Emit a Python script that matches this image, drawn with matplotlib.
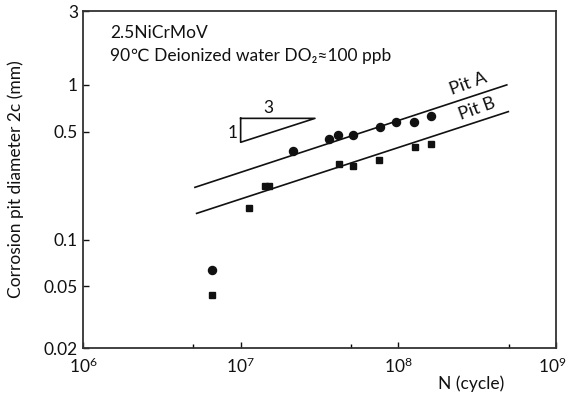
import matplotlib
matplotlib.use("Agg")
import matplotlib.pyplot as plt
import matplotlib.transforms as mtransforms
from matplotlib.ticker import FixedLocator, NullLocator, NullFormatter

plt.rcParams['font.family'] = ['Lato', 'DejaVu Sans']
plt.rcParams['mathtext.fontset'] = 'custom'
plt.rcParams['mathtext.rm'] = 'Lato'
plt.rcParams['mathtext.it'] = 'Lato:italic'

# Pit A (circles)
pitA_n = [6.58e6, 2.16e7, 3.63e7, 4.16e7, 5.13e7, 7.64e7, 9.66e7, 1.26e8, 1.60e8]
pitA_d = [0.0638, 0.377, 0.446, 0.475, 0.475, 0.531, 0.578, 0.578, 0.630]
# Pit B (squares)
pitB_n = [6.58e6, 1.13e7, 1.42e7, 1.52e7, 4.22e7, 5.13e7, 7.57e7, 1.27e8, 1.60e8]
pitB_d = [0.044, 0.161, 0.222, 0.222, 0.307, 0.299, 0.327, 0.399, 0.413]

# fitted lines (end points)
lineA_n = [5.13e6, 4.87e8]
lineA_d = [0.218, 1.0]
lineB_n = [5.26e6, 4.98e8]
lineB_d = [0.148, 0.672]

# slope triangle 1:3
tri_n = [1e7, 1e7, 2.96e7, 1e7]
tri_d = [0.608, 0.426, 0.608, 0.608]

yticks = [0.02, 0.05, 0.1, 0.5, 1, 3]
ytick_labels = ['0.02', '0.05', '0.1', '0.5', '1', '3']
xticks = [1e6, 1e7, 1e8, 1e9]
xtick_labels = [r'$10^{6}$', r'$10^{7}$', r'$10^{8}$', r'$10^{9}$']
xminor = [5e6, 5e7, 5e8]

c = '#111111'
fs = 12.5
fig = plt.figure(figsize=(5.68, 3.93), dpi=100)
ax = fig.add_axes([0.146, 0.1145, 0.833, 0.8575])
ax.set_xscale('log')
ax.set_yscale('log')
ax.set_xlim(1e6, 1e9)
ax.set_ylim(0.02, 3)

ax.plot(lineA_n, lineA_d, color=c, lw=1.2)
ax.plot(lineB_n, lineB_d, color=c, lw=1.2)
ax.plot(tri_n, tri_d, color=c, lw=1.2)
ax.plot(pitA_n, pitA_d, 'o', color=c, ms=5.8, ls='none')
ax.plot(pitB_n, pitB_d, 's', color=c, ms=5, ls='none')

ax.text(8.9e6, 0.489, '1', fontsize=fs, ha='center', va='center', color=c)
ax.text(1.51e7, 0.71, '3', fontsize=fs, ha='center', va='center', color=c)
ax.text(2.76e8, 1.01, 'Pit A', fontsize=13, rotation=20, ha='center', va='center', color=c)
ax.text(3.14e8, 0.70, 'Pit B', fontsize=13, rotation=20, ha='center', va='center', color=c)

ax.text(0.057, 0.935, '2.5NiCrMoV', transform=ax.transAxes, fontsize=fs, va='center', color=c)
ax.text(0.057, 0.865, '90℃ Deionized water DO₂≈100 ppb', transform=ax.transAxes,
        fontsize=fs, va='center', color=c)

ax.xaxis.set_major_locator(FixedLocator(xticks))
ax.set_xticklabels(xtick_labels)
ax.xaxis.set_minor_locator(FixedLocator(xminor))
ax.xaxis.set_minor_formatter(NullFormatter())
ax.yaxis.set_major_locator(FixedLocator(yticks))
ax.set_yticklabels(ytick_labels)
ax.yaxis.set_minor_locator(NullLocator())
ax.tick_params(direction='in', length=4, width=1, labelsize=fs, colors=c)
ax.tick_params(which='minor', direction='in', length=3, width=1)
ax.tick_params(axis='x', pad=6)

# keep the 10^9 label inside the canvas
last = ax.get_xticklabels()[-1]
last.set_transform(last.get_transform() +
                   mtransforms.ScaledTranslation(-4 / 100, 0, fig.dpi_scale_trans))

for s in ax.spines.values():
    s.set_color('#333333')
    s.set_linewidth(1.3)

ax.set_ylabel('Corrosion pit diameter 2c (mm)', fontsize=fs, color=c)
ax.yaxis.set_label_coords(-0.125, 0.5)
ax.set_xlabel('N (cycle)', fontsize=fs, color=c)
ax.xaxis.set_label_coords(0.82, -0.08)

fig.savefig('out.png', dpi=100)
